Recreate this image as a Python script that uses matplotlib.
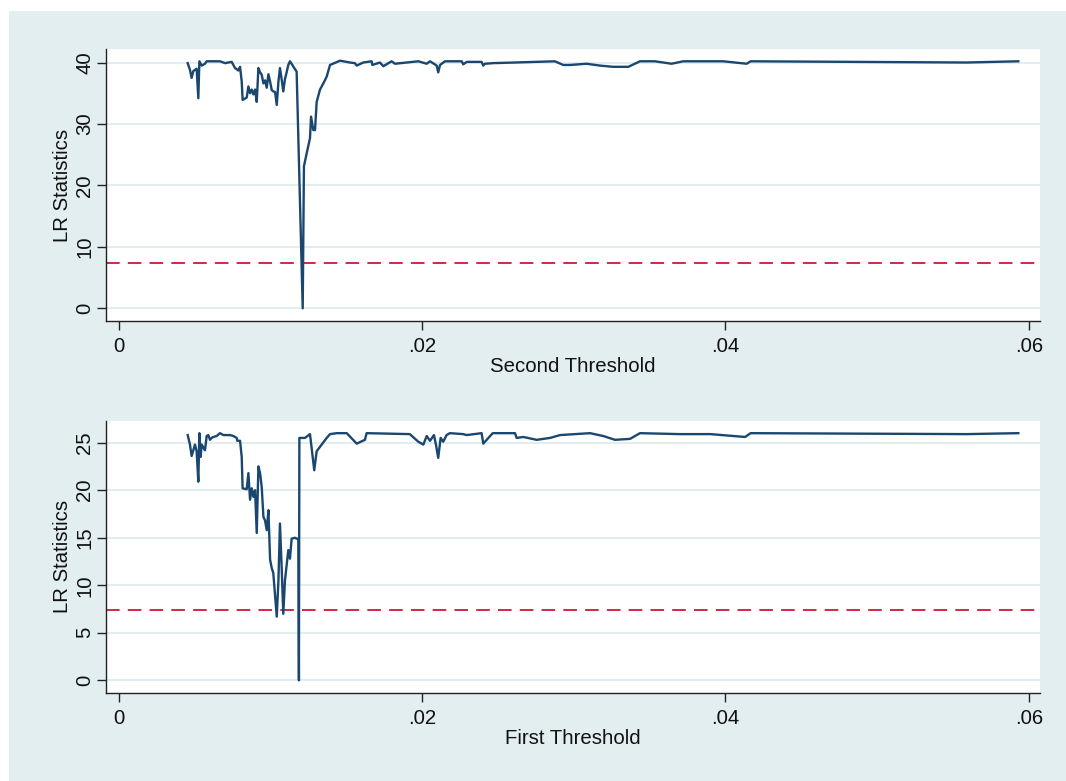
import matplotlib
matplotlib.use("Agg")
import matplotlib.pyplot as plt
from matplotlib.patches import Rectangle

plt.rcParams['font.family'] = ['Liberation Sans', 'DejaVu Sans']

# ---------------- data ----------------
critical_value = 7.35

second_x = [0.00456, 0.00471, 0.00482, 0.00493, 0.00515, 0.00526, 0.00533, 0.00548,
            0.00570, 0.00581, 0.00669, 0.00702, 0.00746, 0.00768, 0.00790, 0.00801,
            0.00812, 0.00818, 0.00845, 0.00856, 0.00867, 0.00878, 0.00889, 0.00900,
            0.00911, 0.00922, 0.00933, 0.00944, 0.00955, 0.00966, 0.00977, 0.00988,
            0.00999, 0.01010, 0.01020, 0.01032, 0.01043, 0.01054, 0.01064, 0.01075,
            0.01086, 0.01097, 0.01108, 0.01119, 0.01130, 0.01174, 0.01214, 0.01222,
            0.01240, 0.01262, 0.01269, 0.01284, 0.01295, 0.01306, 0.01328, 0.01350,
            0.01372, 0.01394, 0.01460, 0.01525, 0.01558, 0.01570, 0.01613, 0.01668,
            0.01673, 0.01723, 0.01745, 0.01800, 0.01822, 0.01899, 0.01976, 0.02031,
            0.02053, 0.02097, 0.02107, 0.02119, 0.02152, 0.02262, 0.02272, 0.02295,
            0.02393, 0.02404, 0.02415, 0.02470, 0.02613, 0.02876, 0.02931, 0.02975,
            0.03085, 0.03173, 0.03260, 0.03360, 0.03437, 0.03535, 0.03645, 0.03722,
            0.03985, 0.04140, 0.04166, 0.05590, 0.05930]
second_lr = [39.9, 38.8, 37.5, 38.6, 39.0, 34.2, 40.2, 39.5,
             39.8, 40.2, 40.2, 39.9, 40.1, 39.1, 38.7, 39.3,
             36.9, 33.9, 34.3, 36.1, 35.0, 35.6, 34.8, 35.6,
             33.6, 39.1, 38.4, 38.0, 36.6, 37.1, 35.9, 38.1,
             36.9, 35.5, 35.3, 35.2, 33.1, 36.9, 39.1, 37.3,
             35.3, 37.3, 38.4, 39.6, 40.2, 38.5, 0.0, 23.1,
             25.2, 27.7, 31.2, 29.0, 29.0, 33.6, 35.6, 36.6,
             37.7, 39.6, 40.3, 40.0, 39.9, 39.5, 40.0, 40.2,
             39.6, 40.0, 39.4, 40.2, 39.8, 40.0, 40.2, 39.8,
             40.2, 39.5, 38.4, 39.6, 40.2, 40.2, 39.7, 40.1,
             40.1, 39.5, 39.8, 39.9, 40.0, 40.2, 39.6, 39.6,
             39.8, 39.5, 39.3, 39.3, 40.2, 40.2, 39.8, 40.2,
             40.2, 39.8, 40.2, 40.0, 40.2]

first_x = [0.00456, 0.00471, 0.00482, 0.00493, 0.00504, 0.00515, 0.00526, 0.00533,
           0.00541, 0.00548, 0.00559, 0.00570, 0.00581, 0.00592, 0.00603, 0.00614,
           0.00625, 0.00647, 0.00669, 0.00691, 0.00713, 0.00735, 0.00757, 0.00779,
           0.00783, 0.00801, 0.00812, 0.00818, 0.00845, 0.00856, 0.00867, 0.00878,
           0.00889, 0.00900, 0.00911, 0.00922, 0.00933, 0.00944, 0.00955, 0.00966,
           0.00977, 0.00988, 0.00999, 0.01010, 0.01020, 0.01043, 0.01054, 0.01064,
           0.01075, 0.01086, 0.01097, 0.01119, 0.01130, 0.01141, 0.01163, 0.01174,
           0.01185, 0.01189, 0.01192, 0.01229, 0.01262, 0.01290, 0.01306, 0.01339,
           0.01372, 0.01394, 0.01438, 0.01504, 0.01570, 0.01624, 0.01635, 0.01920,
           0.01976, 0.02009, 0.02031, 0.02053, 0.02079, 0.02092, 0.02107, 0.02123,
           0.02140, 0.02162, 0.02184, 0.02272, 0.02295, 0.02393, 0.02404, 0.02466,
           0.02613, 0.02624, 0.02668, 0.02756, 0.02844, 0.02910, 0.03107, 0.03195,
           0.03272, 0.03371, 0.03437, 0.03700, 0.03900, 0.04130, 0.04166, 0.05590,
           0.05930]
first_lr = [25.8, 24.8, 23.6, 24.2, 24.8, 24.1, 20.9, 26.0,
            23.5, 24.8, 24.5, 24.2, 25.7, 25.8, 25.3, 25.5,
            25.6, 25.7, 26.0, 25.8, 25.8, 25.8, 25.7, 25.5,
            25.2, 25.2, 23.5, 20.2, 20.1, 21.8, 19.0, 20.2,
            19.3, 20.0, 15.5, 22.5, 21.8, 20.3, 17.2, 16.8,
            15.8, 17.9, 12.7, 11.8, 11.3, 6.7, 10.5, 16.5,
            12.0, 7.0, 10.5, 13.7, 12.8, 14.9, 15.0, 14.9,
            14.9, 0.0, 25.5, 25.5, 25.9, 22.1, 24.1, 24.8,
            25.5, 25.9, 26.0, 26.0, 24.9, 25.3, 26.0, 25.9,
            25.1, 24.8, 25.7, 25.2, 25.8, 24.8, 23.4, 25.5,
            25.1, 25.8, 26.0, 25.9, 25.8, 26.0, 24.9, 26.0,
            26.0, 25.5, 25.6, 25.3, 25.5, 25.8, 26.0, 25.7,
            25.3, 25.4, 26.0, 25.9, 25.9, 25.6, 26.0, 25.9,
            26.0]

x_ticks = [0, 0.02, 0.04, 0.06]
x_tick_labels = ["0", ".02", ".04", ".06"]
top_yticks = [0, 10, 20, 30, 40]
bottom_yticks = [0, 5, 10, 15, 20, 25]

# ---------------- style ----------------
W, H = 1066, 781
fig = plt.figure(figsize=(W / 100, H / 100), dpi=100, facecolor='white')
bg = '#E2EEF0'
fig.patches.append(Rectangle((9 / W, 0), 1, 1 - 11 / H, transform=fig.transFigure,
                             facecolor=bg, edgecolor='none', zorder=-10))

line_col = '#1A476F'
red_col = '#D0294A'
grid_col = '#E2EDF0'

def fx(px):
    return px / W

def fy(py):
    return 1 - py / H

panels = [
    dict(x=second_x, y=second_lr, top=49, bot=321, ylim=(-2.07, 42.2),
         yticks=top_yticks, xlabel="Second Threshold"),
    dict(x=first_x, y=first_lr, top=421, bot=692.7, ylim=(-1.3, 27.28),
         yticks=bottom_yticks, xlabel="First Threshold"),
]

for p in panels:
    ax = fig.add_axes([fx(106), fy(p['bot']), fx(1040 - 106), (p['bot'] - p['top']) / H])
    ax.set_facecolor('white')
    ax.plot(p['x'], p['y'], color=line_col, lw=1.7, zorder=3)
    ax.axhline(critical_value, color=red_col, lw=1.4, dashes=(7.0, 4.2), zorder=2)
    ax.set_xlim(-0.000824, 0.06073)
    ax.set_ylim(*p['ylim'])
    ax.set_xticks(x_ticks)
    ax.set_xticklabels(x_tick_labels)
    ax.set_yticks(p['yticks'])
    ax.set_yticklabels([str(t) for t in p['yticks']], rotation=90, va='center')
    ax.grid(axis='y', color=grid_col, lw=1.5, zorder=0)
    ax.set_axisbelow(True)
    for s in ['top', 'right']:
        ax.spines[s].set_visible(False)
    for s in ['left', 'bottom']:
        ax.spines[s].set_color('#222222')
        ax.spines[s].set_linewidth(1.0)
    ax.tick_params(axis='both', direction='out', length=6.5, width=1.0,
                   color='#222222', labelsize=14.7, labelcolor='#111111')
    ax.tick_params(axis='y', pad=2)
    ax.tick_params(axis='x', pad=5)
    ax.set_ylabel("LR Statistics", fontsize=14.7, color='#111111', labelpad=2.5)
    ax.set_xlabel(p['xlabel'], fontsize=14.7, color='#111111', labelpad=1)

fig.savefig("out.png", dpi=100, facecolor=fig.get_facecolor())
